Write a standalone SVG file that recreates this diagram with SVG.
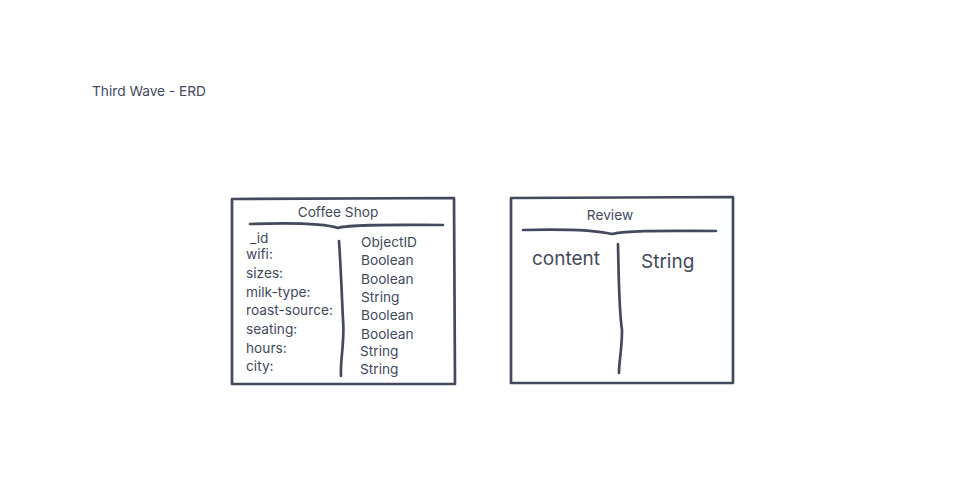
<svg xmlns="http://www.w3.org/2000/svg" width="968" height="477" viewBox="0 0 968 477">
<style>
.t{font-family:Inter,"Liberation Sans",sans-serif;fill:#434a5c;font-size:13.7px}
.b{font-size:19px}
.s{fill:none;stroke:#434a5c;stroke-width:2.7;stroke-linecap:round;stroke-linejoin:round}
</style>
<rect width="968" height="477" fill="#fff"/>
<text class="t" x="92" y="96">Third Wave - ERD</text>
<g id="coffee-shop">
<path class="s" d="M232,199 L454,198 L455,384 L232,384 Z"/>
<text class="t" x="338" y="217" text-anchor="middle">Coffee Shop</text>
<path class="s" d="M250,224 C280,223 320,222 338,228 C350,224 400,225 443,225"/>
<path class="s" d="M339,241 C341,270 342,300 343,320 C345,340 340,360 341,376"/>
<g class="t">
<text x="250" y="243">_id</text>
<text x="246" y="259">wifi:</text>
<text x="246" y="278">sizes:</text>
<text x="246" y="297">milk-type:</text>
<text x="246" y="315">roast-source:</text>
<text x="246" y="334">seating:</text>
<text x="246" y="353">hours:</text>
<text x="246" y="371">city:</text>
<text x="361" y="247">ObjectID</text>
<text x="361" y="265">Boolean</text>
<text x="361" y="284">Boolean</text>
<text x="361" y="302">String</text>
<text x="361" y="320">Boolean</text>
<text x="361" y="339">Boolean</text>
<text x="360" y="356">String</text>
<text x="360" y="374">String</text>
</g>
</g>
<g id="review">
<path class="s" d="M511,198 L733,197 L733,383 L511,383 Z"/>
<text class="t" x="610" y="220" text-anchor="middle">Review</text>
<path class="s" d="M523,230 C560,229 590,229 612,234 C630,230 670,231 716,231"/>
<path class="s" d="M618,244 C619,290 619,310 622,330 C622,350 619,360 619,373"/>
<text class="t b" x="532" y="265">content</text>
<text class="t b" x="641" y="268">String</text>
</g>
<g id="connectors"/>
</svg>
